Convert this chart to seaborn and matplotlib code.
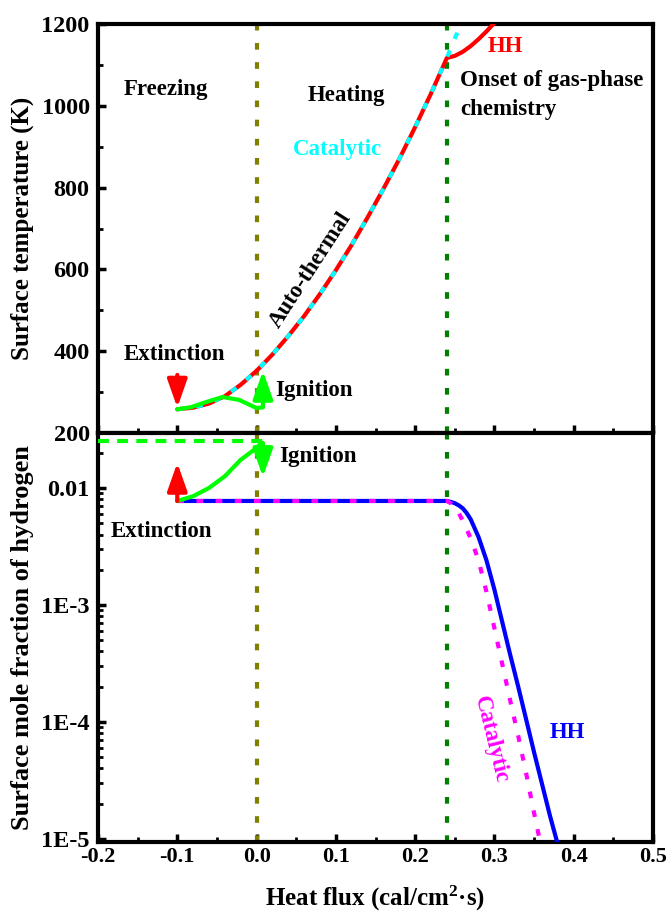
#!/usr/bin/env python3
import matplotlib
matplotlib.use("Agg")
import matplotlib.pyplot as plt
from matplotlib.ticker import MultipleLocator, FixedLocator, FixedFormatter, LogLocator, NullFormatter
import seaborn as sns

# Top panel: surface temperature (K) vs heat flux (cal/cm2 s)
# auto-thermal (upper) branch, shared by HH and catalytic model
upperX = [-0.10, -0.08, -0.06, -0.04, -0.02, 0.00, 0.02, 0.04, 0.06, 0.08,
          0.10, 0.12, 0.14, 0.16, 0.18, 0.20, 0.22, 0.24]
upperT = [258, 262, 272, 290, 318, 352, 392, 437, 486, 540,
          598, 660, 727, 797, 870, 948, 1030, 1117]
# after onset of gas-phase chemistry
hhTopX = [0.25, 0.26, 0.27, 0.28, 0.29, 0.30]
hhTopT = [1122, 1132, 1146, 1163, 1182, 1203]
catTopX = [0.248, 0.258]
catTopT = [1156, 1200]
# lower (ignition) branch
lowerX = [-0.10, -0.083, -0.063, -0.043, -0.022, 0.00, 0.008]
lowerT = [258, 263, 276, 288, 281, 261, 263]

# Bottom panel: surface mole fraction of hydrogen
hhX = [-0.10, -0.05, 0.00, 0.05, 0.10, 0.15, 0.20, 0.24, 0.245, 0.25, 0.255,
       0.26, 0.265, 0.27, 0.28, 0.29, 0.30, 0.31, 0.32, 0.33, 0.34, 0.35,
       0.36, 0.37, 0.38]
hhH2 = [7.74e-3, 7.74e-3, 7.74e-3, 7.74e-3, 7.74e-3, 7.74e-3, 7.74e-3, 7.74e-3,
        7.6e-3, 7.41e-3, 7.1e-3, 6.7e-3, 6.1e-3, 5.4e-3, 3.80e-3, 2.40e-3,
        1.35e-3, 7.08e-4, 3.72e-4, 2.00e-4, 1.05e-4, 5.50e-5, 2.95e-5, 1.58e-5,
        8.9e-6]
catX = [-0.10, 0.00, 0.10, 0.20, 0.24, 0.245, 0.25, 0.255, 0.26, 0.27, 0.28,
        0.29, 0.30, 0.31, 0.32, 0.33, 0.34, 0.35, 0.36]
catH2 = [7.74e-3, 7.74e-3, 7.74e-3, 7.74e-3, 7.74e-3, 7.4e-3, 6.8e-3, 6.1e-3,
         5.25e-3, 3.72e-3, 2.40e-3, 1.29e-3, 6.31e-4, 3.09e-4, 1.51e-4, 7.59e-5,
         3.63e-5, 1.66e-5, 7.9e-6]
igX = [-0.10, -0.08, -0.06, -0.04, -0.02, 0.00, 0.006]
igH2 = [7.74e-3, 8.5e-3, 1.0e-2, 1.26e-2, 1.74e-2, 2.2e-2, 2.43e-2]
coldX = [-0.20, 0.01]
coldH2 = [0.0252, 0.0252]

ignitionFlux = 0.0
onsetFlux = 0.24

# arrows: (x, tail, head)
extTop = (-0.10, 342, 262)
ignTop = (0.008, 263, 352)
extBot = (-0.10, 7.74e-3, 1.64e-2)
ignBot = (0.008, 2.43e-2, 1.24e-2)

sns.set_theme(style="ticks")
plt.rcParams["font.family"] = ["Liberation Serif", "DejaVu Serif"]
plt.rcParams["font.weight"] = "bold"
plt.rcParams["axes.labelweight"] = "bold"
for k in ("text.color", "axes.labelcolor", "xtick.color", "ytick.color", "axes.edgecolor"):
    plt.rcParams[k] = "black"
plt.rcParams["mathtext.fontset"] = "custom"
plt.rcParams["mathtext.rm"] = "Liberation Serif:bold"
plt.rcParams["mathtext.bf"] = "Liberation Serif:bold"
plt.rcParams["mathtext.default"] = "rm"

dotted = (0, (1.6, 3.0))
dashed = (0, (2.6, 2.0))
LW = 3

fig = plt.figure(figsize=(6.66, 9.15), dpi=100)
ax1 = fig.add_axes([98 / 666, 1 - 433 / 915, 555 / 666, 409 / 915])
ax2 = fig.add_axes([98 / 666, 1 - 842 / 915, 555 / 666, 409 / 915])


def line(ax, x, y, color, ls="-", lw=LW, z=3):
    sns.lineplot(x=x, y=y, ax=ax, color=color, lw=lw, linestyle=ls,
                 sort=False, estimator=None, zorder=z)


def arrow(ax, spec, color):
    x, tail, head = spec
    ax.annotate("", xy=(x, head), xytext=(x, tail),
                arrowprops=dict(arrowstyle="-|>,head_length=0.85,head_width=0.3",
                                color=color, lw=LW, mutation_scale=20,
                                shrinkA=0, shrinkB=0), zorder=6)


# ---------------- top panel
for ax in (ax1, ax2):
    ax.axvline(ignitionFlux, color="#808000", lw=LW, linestyle=dotted, zorder=2)
    ax.axvline(onsetFlux, color="#008000", lw=LW, linestyle=dotted, zorder=2)

line(ax1, upperX + hhTopX, upperT + hhTopT, "#ff0000", z=3)
line(ax1, upperX + catTopX, upperT + catTopT, "#00ffff", ls=dotted, z=4)
line(ax1, lowerX, lowerT, "#00ff00", z=5)
arrow(ax1, extTop, "#ff0000")
arrow(ax1, ignTop, "#00ff00")

ax1.set_xlim(-0.2, 0.5)
ax1.set_ylim(200, 1200)
ax1.yaxis.set_major_locator(MultipleLocator(200))
ax1.yaxis.set_minor_locator(MultipleLocator(100))
ax1.set_ylabel("Surface temperature (K)", fontsize=18)
ax1.yaxis.set_label_coords(-0.115, 0.5)
ax1.set_xlabel("")
ax1.tick_params(axis="x", labelbottom=False)

tkw = dict(fontsize=16.5, fontweight="bold", va="center", ha="left")
ax1.text(-0.167, 1039, "Freezing", **tkw)
ax1.text(0.065, 1026, "Heating", **tkw)
ax1.text(0.046, 894, "Catalytic", color="#00ffff", **tkw)
ax1.text(0.292, 1144, "HH", color="#ff0000", **tkw)
ax1.text(0.257, 1063, "Onset of gas-phase", **tkw)
ax1.text(0.257, 992, "chemistry", **tkw)
ax1.text(-0.167, 391, "Extinction", **tkw)
ax1.text(0.023, 303, "Ignition", **tkw)
ax1.text(0.068, 598, "Auto-thermal", fontsize=16.5, fontweight="bold",
         rotation=57, ha="center", va="center", rotation_mode="anchor")

# ---------------- bottom panel
ax2.set_yscale("log")
line(ax2, coldX, coldH2, "#00ff00", ls=dashed, z=3)
line(ax2, hhX, hhH2, "#0000ff", z=3)
line(ax2, catX, catH2, "#ff00ff", ls=dotted, z=4)
line(ax2, igX, igH2, "#00ff00", z=5)
arrow(ax2, extBot, "#ff0000")
arrow(ax2, ignBot, "#00ff00")

ax2.set_xlim(-0.2, 0.5)
ax2.set_ylim(9.4e-6, 0.0295)
ax2.yaxis.set_major_locator(FixedLocator([1e-5, 1e-4, 1e-3, 1e-2]))
ax2.yaxis.set_major_formatter(FixedFormatter(["1E-5", "1E-4", "1E-3", "0.01"]))
ax2.yaxis.set_minor_locator(LogLocator(base=10, subs=range(2, 10)))
ax2.yaxis.set_minor_formatter(NullFormatter())
ax2.set_ylabel("Surface mole fraction of hydrogen", fontsize=19)
ax2.yaxis.set_label_coords(-0.115, 0.5)
ax2.set_xlabel(r"Heat flux (cal/cm$^{2}$·s)", fontsize=18, labelpad=12)

ax2.text(0.029, 1.84e-2, "Ignition", **tkw)
ax2.text(-0.184, 4.28e-3, "Extinction", **tkw)
ax2.text(0.37, 8.05e-5, "HH", color="#0000ff", **tkw)
ax2.text(0.296, 7.0e-5, "Catalytic", color="#ff00ff", fontsize=16.5,
         fontweight="bold", rotation=-76, ha="center", va="center",
         rotation_mode="anchor")

for ax in (ax1, ax2):
    ax.xaxis.set_major_locator(MultipleLocator(0.1))
    ax.xaxis.set_minor_locator(MultipleLocator(0.05))
    ax.xaxis.set_major_formatter(plt.FuncFormatter(lambda v, p: f"{v:.1f}"))
    for s in ax.spines.values():
        s.set_linewidth(LW)
        s.set_visible(True)
        s.set_color("black")
    ax.tick_params(which="major", direction="in", length=6, width=2.5,
                   top=False, right=False, color="black")
    ax.tick_params(axis="x", which="major", labelsize=16)
    ax.tick_params(axis="y", which="major", labelsize=17.5, pad=6)
    ax.tick_params(which="minor", direction="in", length=3.5, width=2,
                   top=False, right=False, color="black")
    for lab in ax.get_xticklabels() + ax.get_yticklabels():
        lab.set_fontweight("bold")

fig.savefig("out.png", dpi=100)
